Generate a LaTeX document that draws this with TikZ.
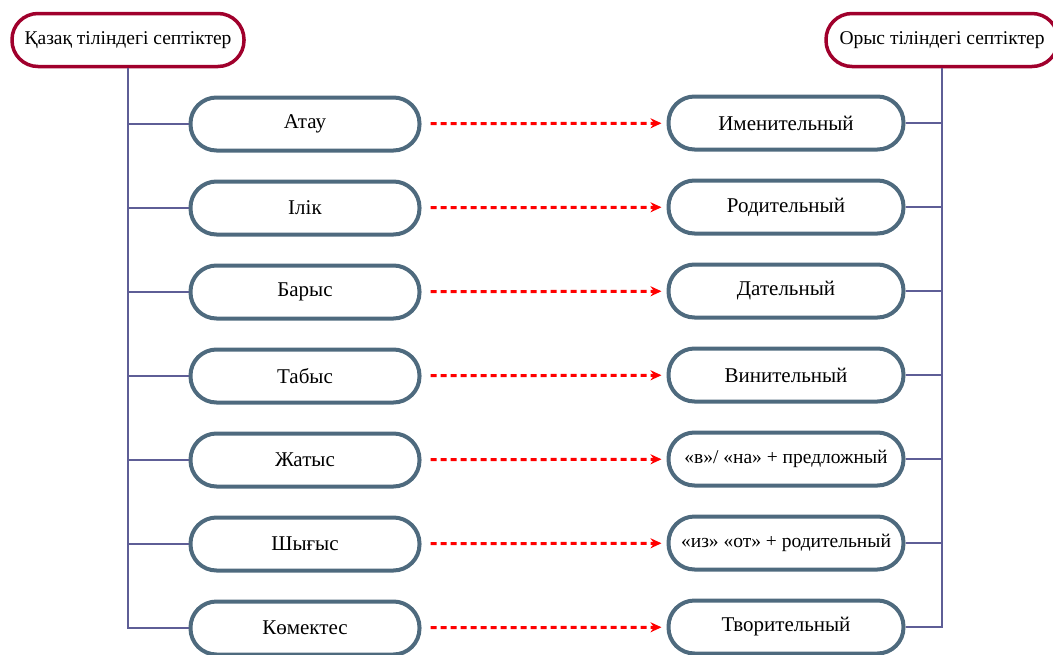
\documentclass[tikz,border=0pt]{standalone}
\usepackage{fontspec}
\setmainfont{Liberation Serif}
\usetikzlibrary{arrows.meta}
\definecolor{headred}{HTML}{A0002C}
\definecolor{boxblue}{HTML}{4E6A7E}
\definecolor{branchline}{HTML}{5E5E96}
\tikzset{
	headbox/.style={draw=headred, line width=3.5pt, rounded corners=26pt, minimum width=232pt, minimum height=53pt, inner sep=0pt, font=\fontsize{19.5}{22}\selectfont, fill=white},
	casebox/.style={draw=boxblue, line width=4pt, rounded corners=26pt, minimum height=53pt, inner sep=0pt, font=\fontsize{21}{25}\selectfont},
	leftcase/.style={casebox, minimum width=229pt},
	rightcase/.style={casebox, minimum width=235pt},
	smallcase/.style={rightcase, font=\fontsize{19.5}{22}\selectfont},
	branch/.style={draw=branchline, line width=1.5pt},
	pairarrow/.style={red, line width=3pt, dash pattern=on 6pt off 4pt, -{Stealth[length=11pt,width=10pt]}, shorten <=9pt, shorten >=5pt}
}

\begin{document}
\begin{tikzpicture}[x=1pt, y=-1pt]
			%%%%% START %%%%%
			\useasboundingbox (0, 0) rectangle (1053, 654);
			
			\node[headbox] (kazhead) at (128, 40) {Қазақ тіліндегі септіктер};
			\node[headbox] (rushead) at (942, 40) {Орыс тіліндегі септіктер};
			
			\node[leftcase] (kaz1) at (305, 124) {Атау};
			\node[leftcase] (kaz2) at (305, 208) {Ілік};
			\node[leftcase] (kaz3) at (305, 292) {Барыс};
			\node[leftcase] (kaz4) at (305, 376) {Табыс};
			\node[leftcase] (kaz5) at (305, 460) {Жатыс};
			\node[leftcase] (kaz6) at (305, 544) {Шығыс};
			\node[leftcase] (kaz7) at (305, 628) {Көмектес};
			
			\node[rightcase] (rus1) at (786, 123) {Именительный};
			\node[rightcase] (rus2) at (786, 207) {Родительный};
			\node[rightcase] (rus3) at (786, 291) {Дательный};
			\node[rightcase] (rus4) at (786, 375) {Винительный};
			\node[smallcase] (rus5) at (786, 459) {«в»/ «на» + предложный};
			\node[smallcase] (rus6) at (786, 543) {«из» «от» + родительный};
			\node[rightcase] (rus7) at (786, 627) {Творительный};
			
			\draw[branch] (kazhead.south) |- (kaz7.west);
			\draw[branch] (kazhead.south |- kaz1.west) -- (kaz1.west);
			\draw[branch] (kazhead.south |- kaz2.west) -- (kaz2.west);
			\draw[branch] (kazhead.south |- kaz3.west) -- (kaz3.west);
			\draw[branch] (kazhead.south |- kaz4.west) -- (kaz4.west);
			\draw[branch] (kazhead.south |- kaz5.west) -- (kaz5.west);
			\draw[branch] (kazhead.south |- kaz6.west) -- (kaz6.west);
			
			\draw[branch] (rushead.south) |- (rus7.east);
			\draw[branch] (rushead.south |- rus1.east) -- (rus1.east);
			\draw[branch] (rushead.south |- rus2.east) -- (rus2.east);
			\draw[branch] (rushead.south |- rus3.east) -- (rus3.east);
			\draw[branch] (rushead.south |- rus4.east) -- (rus4.east);
			\draw[branch] (rushead.south |- rus5.east) -- (rus5.east);
			\draw[branch] (rushead.south |- rus6.east) -- (rus6.east);
			
			\draw[pairarrow] (kaz1) -- (rus1);
			\draw[pairarrow] (kaz2) -- (rus2);
			\draw[pairarrow] (kaz3) -- (rus3);
			\draw[pairarrow] (kaz4) -- (rus4);
			\draw[pairarrow] (kaz5) -- (rus5);
			\draw[pairarrow] (kaz6) -- (rus6);
			\draw[pairarrow] (kaz7) -- (rus7);
			
			%%%%% END %%%%%
		\end{tikzpicture}
\end{document}
